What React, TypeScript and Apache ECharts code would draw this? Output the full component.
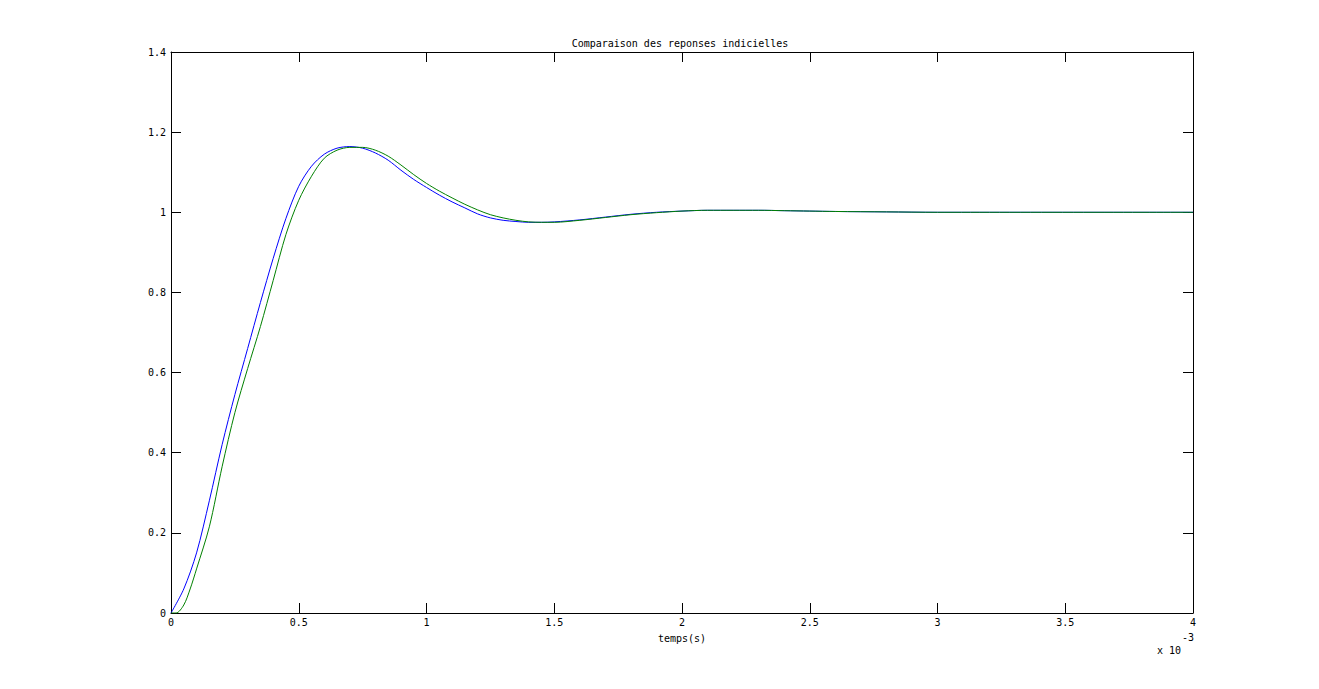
import React, { useEffect, useRef } from "react";
import * as echarts from "echarts";

// time in units of 1e-3 s
const blueT = [0, 0.05, 0.1, 0.15, 0.2, 0.25, 0.3, 0.35, 0.4, 0.45, 0.5, 0.55, 0.6, 0.65, 0.7, 0.75, 0.8, 0.85, 0.9, 0.95, 1.0, 1.05, 1.1, 1.15, 1.2, 1.25, 1.3, 1.35, 1.4, 1.45, 1.5, 1.6, 1.7, 1.8, 1.9, 2.0, 2.1, 2.2, 2.3, 2.4, 2.5, 2.6, 2.8, 3.0, 4.0];
const blueY = [0, 0.06, 0.15, 0.28, 0.42, 0.545, 0.66, 0.775, 0.885, 0.985, 1.065, 1.115, 1.145, 1.16, 1.164, 1.16, 1.148, 1.13, 1.105, 1.082, 1.062, 1.043, 1.026, 1.011, 0.996, 0.986, 0.98, 0.977, 0.975, 0.975, 0.976, 0.981, 0.988, 0.995, 1.0, 1.003, 1.005, 1.005, 1.005, 1.004, 1.003, 1.002, 1.001, 1.0, 1.0];

const greenT = [0, 0.02, 0.05, 0.075, 0.1, 0.15, 0.2, 0.25, 0.3, 0.35, 0.4, 0.45, 0.5, 0.55, 0.6, 0.65, 0.7, 0.75, 0.8, 0.85, 0.9, 0.95, 1.0, 1.05, 1.1, 1.15, 1.2, 1.25, 1.3, 1.35, 1.4, 1.45, 1.5, 1.6, 1.7, 1.8, 1.9, 2.0, 2.1, 2.2, 2.3, 2.4, 2.5, 2.6, 2.8, 3.0, 4.0];
const greenY = [0, 0, 0.02, 0.06, 0.11, 0.215, 0.365, 0.5, 0.61, 0.715, 0.83, 0.945, 1.03, 1.09, 1.135, 1.155, 1.162, 1.162, 1.155, 1.14, 1.118, 1.094, 1.072, 1.053, 1.036, 1.02, 1.006, 0.994, 0.986, 0.98, 0.976, 0.975, 0.975, 0.98, 0.987, 0.994, 0.999, 1.003, 1.005, 1.005, 1.005, 1.004, 1.003, 1.002, 1.001, 1.0, 1.0];

const title = "Comparaison des reponses indicielles";
const xName = "temps(s)";
const xMin = 0, xMax = 4, xStep = 0.5;
const yMin = 0, yMax = 1.4, yStep = 0.2;

const FONT = "DejaVu Sans Mono";

export default function App() {
  const ref = useRef<HTMLDivElement>(null);
  useEffect(() => {
    const chart = echarts.init(ref.current!, null, { renderer: "svg" });
    const tickBase = {
      show: true,
      inside: true,
      length: 10,
      lineStyle: { color: "#000", width: 1 },
    };
    const lineBase = { show: true, onZero: false, lineStyle: { color: "#000", width: 1 } };
    const labelBase = { color: "#000", fontFamily: FONT, fontSize: 10 };
    chart.setOption({
      animation: false,
      backgroundColor: "#fff",
      title: {
        text: title,
        left: 675,
        top: 33,
        textAlign: "center",
        textStyle: { fontFamily: FONT, fontSize: 10, fontWeight: "normal", color: "#000" },
      },
      grid: { left: 171, top: 52, width: 1022, height: 561, containLabel: false },
      xAxis: [
        {
          type: "value",
          min: xMin,
          max: xMax,
          interval: xStep,
          position: "bottom",
          axisLine: lineBase,
          axisTick: tickBase,
          splitLine: { show: false },
          axisLabel: { ...labelBase, margin: 4 },
          name: xName,
          nameLocation: "middle",
          nameGap: 20,
          nameTextStyle: { ...labelBase },
        },
        {
          type: "value",
          min: xMin,
          max: xMax,
          interval: xStep,
          position: "top",
          axisLine: lineBase,
          axisTick: tickBase,
          splitLine: { show: false },
          axisLabel: { show: false },
        },
      ],
      yAxis: [
        {
          type: "value",
          min: yMin,
          max: yMax,
          interval: yStep,
          position: "left",
          axisLine: lineBase,
          axisTick: tickBase,
          splitLine: { show: false },
          axisLabel: { ...labelBase, margin: 5 },
        },
        {
          type: "value",
          min: yMin,
          max: yMax,
          interval: yStep,
          position: "right",
          axisLine: lineBase,
          axisTick: tickBase,
          splitLine: { show: false },
          axisLabel: { show: false },
        },
      ],
      series: [
        {
          type: "line",
          data: blueT.map((t, i) => [t, blueY[i]]),
          showSymbol: false,
          smooth: 0.3,
          lineStyle: { color: "#0000ff", width: 1 },
          itemStyle: { color: "#0000ff" },
        },
        {
          type: "line",
          data: greenT.map((t, i) => [t, greenY[i]]),
          showSymbol: false,
          smooth: 0.3,
          lineStyle: { color: "#008000", width: 1 },
          itemStyle: { color: "#008000" },
        },
      ],
      graphic: [
        {
          type: "text",
          left: 1157,
          top: 645,
          style: { text: "x 10", fontFamily: FONT, fontSize: 10, fill: "#000" },
        },
        {
          type: "text",
          left: 1182,
          top: 632,
          style: { text: "-3", fontFamily: FONT, fontSize: 10, fill: "#000" },
        },
      ],
    });
    return () => chart.dispose();
  }, []);
  return (
    <div
      ref={ref}
      style={{ position: "fixed", left: 0, top: 0, width: 1319, height: 689 }}
    />
  );
}
